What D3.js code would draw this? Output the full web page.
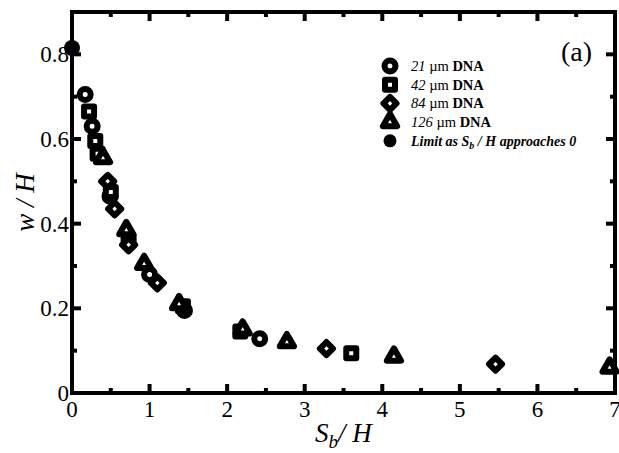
<!DOCTYPE html>
<html>
<head>
<meta charset="utf-8">
<script src="https://cdn.jsdelivr.net/npm/d3@7"></script>
<style>
  body { margin: 0; background: #fff; }
  text { font-family: "Liberation Serif", "Times New Roman", serif; fill: #000; }
</style>
</head>
<body>
<div id="chart"></div>
<script>
var svgWidth = 619
var svgHeight = 453

var margin = { top: 12, right: 4, bottom: 60, left: 72 }

// series data (Sb/H , w/H)
var circleX = [0.17, 0.26, 0.49, 1.0, 1.45, 2.42]
var circleY = [0.705, 0.63, 0.465, 0.28, 0.195, 0.128]
var squareX = [0.22, 0.30, 0.33, 0.50, 0.73, 1.43, 2.17, 3.60]
var squareY = [0.665, 0.595, 0.565, 0.475, 0.36, 0.205, 0.145, 0.094]
var diamondX = [0.46, 0.55, 0.73, 1.10, 3.28, 5.46]
var diamondY = [0.50, 0.435, 0.35, 0.26, 0.105, 0.068]
var triangleX = [0.40, 0.70, 0.93, 1.38, 2.20, 2.77, 4.15, 6.93]
var triangleY = [0.555, 0.385, 0.305, 0.21, 0.15, 0.12, 0.086, 0.06]
var limitX = [0]
var limitY = [0.815]

var xTicks = [0, 1, 2, 3, 4, 5, 6, 7]
var yTicks = [0, 0.2, 0.4, 0.6, 0.8]
var legendNums = ["21", "42", "84", "126"]

var svg = d3.select("#chart").append("svg")
    .attr("width", svgWidth)
    .attr("height", svgHeight)

var g = svg.append("g")
    .attr("transform", `translate(${margin.left}, ${margin.top})`)

var xScale = d3.scaleLinear().domain([0, 7]).range([0, 543])
var yScale = d3.scaleLinear().domain([0, 0.9]).range([381, 0])
var W = xScale(7), Hh = yScale(0)

// ticks inside the frame on all four sides
var xMinor = d3.range(0.5, 7, 1)
var yMinor = d3.range(0.1, 0.9, 0.2)
function tickLines(vals, len, side) {
    vals.forEach(function(v) {
        if (side == "x") {
            g.append("line").attr("x1", xScale(v)).attr("x2", xScale(v)).attr("y1", Hh).attr("y2", Hh - len)
                .attr("stroke", "#000").attr("stroke-width", 4)
            g.append("line").attr("x1", xScale(v)).attr("x2", xScale(v)).attr("y1", 0).attr("y2", len)
                .attr("stroke", "#000").attr("stroke-width", 4)
        } else {
            g.append("line").attr("y1", yScale(v)).attr("y2", yScale(v)).attr("x1", 0).attr("x2", len)
                .attr("stroke", "#000").attr("stroke-width", 4)
            g.append("line").attr("y1", yScale(v)).attr("y2", yScale(v)).attr("x1", W).attr("x2", W - len)
                .attr("stroke", "#000").attr("stroke-width", 4)
        }
    })
}
tickLines(xTicks.slice(1, 7), 9, "x")
tickLines(xMinor, 5, "x")
tickLines(yTicks.slice(1), 9, "y")
tickLines(yMinor, 5, "y")

g.append("rect")
    .attr("x", 0).attr("y", 0).attr("width", W).attr("height", Hh)
    .attr("fill", "none").attr("stroke", "#000").attr("stroke-width", 4)

// tick labels
g.selectAll(".xl").data(xTicks).enter().append("text")
    .attr("x", d => xScale(d)).attr("y", Hh + 24)
    .attr("text-anchor", "middle").attr("font-size", 23)
    .text(d => d)
g.selectAll(".yl").data(yTicks).enter().append("text")
    .attr("x", -3).attr("y", d => yScale(d) + 8)
    .attr("text-anchor", "end").attr("font-size", 23)
    .text(d => d == 0 ? "0" : d.toFixed(1))

// axis titles
var xt = g.append("text").attr("x", 243).attr("y", Hh + 49)
    .attr("font-size", 27).attr("font-style", "italic")
xt.append("tspan").text("S")
xt.append("tspan").attr("dy", 6).attr("font-size", 19).text("b")
xt.append("tspan").attr("dy", -6).text("/ H")

g.append("text")
    .attr("transform", `translate(-38, ${yScale(0.45)}) rotate(-90)`)
    .attr("text-anchor", "middle").attr("font-size", 27).attr("font-style", "italic")
    .text("w / H")

g.append("text").attr("x", 520).attr("y", 49)
    .attr("text-anchor", "end").attr("font-size", 28).text("(a)")

// markers
var sw = 6
var circ = d3.symbol().type(d3.symbolCircle).size(95)
var sq = d3.symbol().type(d3.symbolSquare).size(100)
var dia = d3.symbol().type(d3.symbolSquare).size(85)
var tri = d3.symbol().type(d3.symbolTriangle).size(88)

function zip(xs, ys) { return xs.map((x, i) => [x, ys[i]]) }

function drawSeries(pts, gen, rot) {
    g.append("g").selectAll("path").data(pts).enter().append("path")
        .attr("d", gen)
        .attr("transform", d => `translate(${xScale(d[0])}, ${yScale(d[1])}) rotate(${rot})`)
        .attr("fill", "#fff").attr("stroke", "#000").attr("stroke-width", sw)
        .attr("stroke-linejoin", "round")
}
drawSeries(zip(circleX, circleY), circ, 0)
drawSeries(zip(squareX, squareY), sq, 0)
drawSeries(zip(diamondX, diamondY), dia, 45)
drawSeries(zip(triangleX, triangleY), tri, 0)

g.selectAll(".lim").data(zip(limitX, limitY)).enter().append("circle")
    .attr("cx", d => xScale(d[0])).attr("cy", d => yScale(d[1]))
    .attr("r", 8).attr("fill", "#000")

// legend
var lx = 318, ly = 54, lstep = 18.7
var legGens = [[circ, 0], [sq, 0], [dia, 45], [tri, 0]]
legGens.forEach(function(s, i) {
    g.append("path").attr("d", s[0])
        .attr("transform", `translate(${lx}, ${ly + i * lstep}) rotate(${s[1]})`)
        .attr("fill", "#fff").attr("stroke", "#000").attr("stroke-width", sw)
        .attr("stroke-linejoin", "round")
    var t = g.append("text").attr("x", lx + 21).attr("y", ly + i * lstep + 5).attr("font-size", 14.5)
    t.append("tspan").attr("font-style", "italic").text(legendNums[i] + " ")
    t.append("tspan").text("\u00b5m ")
    t.append("tspan").attr("font-weight", "bold").text("DNA")
})
g.append("circle").attr("cx", lx).attr("cy", ly + 4 * lstep).attr("r", 6.5).attr("fill", "#000")
var lt = g.append("text").attr("x", lx + 21).attr("y", ly + 4 * lstep + 5)
    .attr("font-size", 14).attr("font-style", "italic").attr("font-weight", "bold")
lt.append("tspan").text("Limit as S")
lt.append("tspan").attr("dy", 3).attr("font-size", 10).text("b")
lt.append("tspan").attr("dy", -3).text(" / H approaches 0")
</script>
</body>
</html>
